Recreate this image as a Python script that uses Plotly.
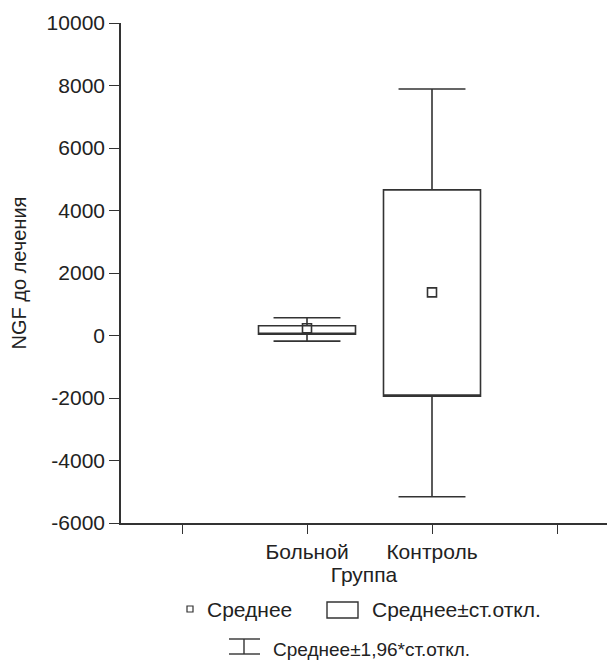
import plotly.graph_objects as go

# ---- data ----
groups = ["Больной", "Контроль"]
group_pos = [2, 3]
x_tick_vals = [1, 2, 3, 4]
x_tick_text = ["", "Больной", "Контроль", ""]
means = [230, 1380]
sd_low = [40, -1940]
sd_high = [310, 4660]
ci_low = [-180, -5160]
ci_high = [570, 7890]
y_tick_vals = [-6000, -4000, -2000, 0, 2000, 4000, 6000, 8000, 10000]
y_tick_text = ["-6000", "-4000", "-2000", "0", "2000", "4000", "6000", "8000", "10000"]
legend_labels = ["Среднее", "Среднее±ст.откл.", "Среднее±1,96*ст.откл."]

# ---- layout constants ----
W, H = 607, 660
ML, MR, MT, MB = 121, 0, 23, 137
PW, PH = W - ML - MR, H - MT - MB
LINE = "#333333"
TXT = "#222222"
FONT = "Liberation Sans, Arial, Helvetica, sans-serif"
FS = 21


def px(x):
    return (x - ML) / PW


def py(y):
    return (H - MB - y) / PH


fig = go.Figure()

fig.add_trace(go.Box(
    x=group_pos,
    q1=sd_low,
    median=sd_low,
    q3=sd_high,
    lowerfence=ci_low,
    upperfence=ci_high,
    width=0.776,
    whiskerwidth=0.69,
    fillcolor="white",
    line=dict(color=LINE, width=1.6),
    boxpoints=False,
    showlegend=False,
    hoverinfo="skip",
))

fig.add_trace(go.Scatter(
    x=group_pos,
    y=means,
    mode="markers",
    marker=dict(symbol="square-open", size=9, color=LINE, line=dict(width=1.6, color=LINE)),
    showlegend=False,
    hoverinfo="skip",
))

shapes = []
annotations = []

# legend row 1: mean marker
shapes.append(dict(type="rect", xref="paper", yref="paper",
                   x0=px(187), x1=px(193), y0=py(612), y1=py(606),
                   line=dict(color=LINE, width=1.2), fillcolor="white"))
annotations.append(dict(x=px(205), y=py(609), xref="paper", yref="paper",
                        text=legend_labels[0], showarrow=False,
                        xanchor="left", yanchor="middle",
                        font=dict(family=FONT, size=FS, color=TXT)))
# legend row 1: box
shapes.append(dict(type="rect", xref="paper", yref="paper",
                   x0=px(327), x1=px(358), y0=py(618), y1=py(602),
                   line=dict(color=LINE, width=1.4), fillcolor="white"))
annotations.append(dict(x=px(370), y=py(609), xref="paper", yref="paper",
                        text=legend_labels[1], showarrow=False,
                        xanchor="left", yanchor="middle",
                        font=dict(family=FONT, size=FS, color=TXT)))
# legend row 2: whisker symbol
shapes.append(dict(type="line", xref="paper", yref="paper",
                   x0=px(229), x1=px(260), y0=py(639), y1=py(639),
                   line=dict(color=LINE, width=1.4)))
shapes.append(dict(type="line", xref="paper", yref="paper",
                   x0=px(229), x1=px(260), y0=py(654), y1=py(654),
                   line=dict(color=LINE, width=1.4)))
shapes.append(dict(type="line", xref="paper", yref="paper",
                   x0=px(244), x1=px(244), y0=py(639), y1=py(654),
                   line=dict(color=LINE, width=1.4)))
annotations.append(dict(x=px(271), y=py(649), xref="paper", yref="paper",
                        text=legend_labels[2], showarrow=False,
                        xanchor="left", yanchor="middle",
                        font=dict(family=FONT, size=19, color=TXT)))

fig.update_layout(
    width=W, height=H,
    margin=dict(l=ML, r=MR, t=MT, b=MB, pad=0),
    paper_bgcolor="white", plot_bgcolor="white",
    font=dict(family=FONT, size=FS, color=TXT),
    showlegend=False,
    shapes=shapes,
    annotations=annotations,
    xaxis=dict(
        range=[0.512, 4.4],
        automargin=False,
        tickmode="array", tickvals=x_tick_vals, ticktext=x_tick_text,
        ticks="outside", ticklen=9, tickwidth=1.4, tickcolor=LINE,
        showline=True, linecolor=LINE, linewidth=1.6,
        showgrid=False, zeroline=False,
        tickfont=dict(family=FONT, size=FS, color=TXT),
        title=dict(text="Группа", font=dict(family=FONT, size=FS, color=TXT), standoff=5),
    ),
    yaxis=dict(
        range=[-6000, 10000],
        automargin=False,
        tickmode="array", tickvals=y_tick_vals, ticktext=y_tick_text,
        ticks="outside", ticklen=10, tickwidth=1.4, tickcolor=LINE,
        showline=True, linecolor=LINE, linewidth=1.6,
        showgrid=False, zeroline=False,
        tickfont=dict(family=FONT, size=FS, color=TXT),
        title=dict(text="NGF до лечения", font=dict(family=FONT, size=20, color=TXT), standoff=15),
    ),
)

fig.write_html(
    "out.html",
    config={"displayModeBar": False},
    post_script="document.body.style.margin='0';document.body.style.overflow='hidden';",
)
